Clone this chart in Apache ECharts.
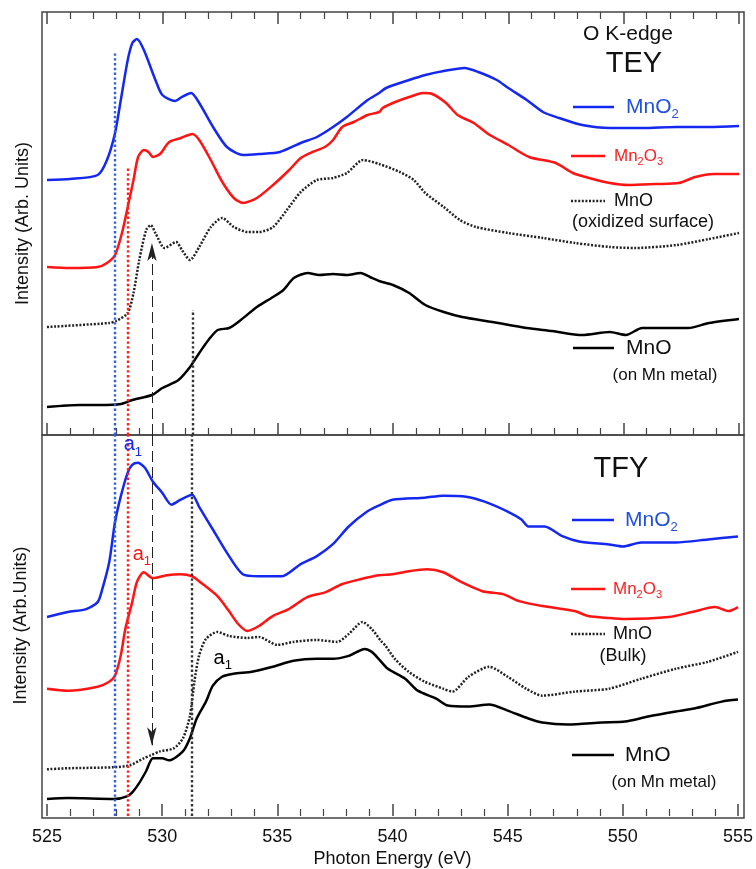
<!DOCTYPE html>
<html>
<head>
<meta charset="utf-8">
<title>O K-edge XAS</title>
<script src="https://cdn.jsdelivr.net/npm/echarts@6/dist/echarts.min.js"></script>
<style>
  html, body { margin: 0; padding: 0; background: #fff; }
  #chart { width: 756px; height: 869px; }
</style>
</head>
<body>
<div id="chart"></div>
<script>
// photon energy axis
const energyMin = 525;
const energyMax = 555;
const energyStep = 5;

// TEY panel, [eV, intensity] (arb. units, offset as in the figure)
const teyMnO2 = [[525,255],[526,256],[527.2,260],[527.6,275],[527.95,302],[528.2,335],[528.5,375],[528.7,392],[528.9,396],[529.2,385],[529.7,355],[530.0,340],[530.55,334],[530.85,338],[531.25,342],[531.6,332],[532.2,308],[532.8,288],[533.5,280],[534.2,281],[535.1,283],[536.0,292],[536.7,298],[537.4,308],[538.0,318],[538.9,335],[539.4,342],[539.7,347],[540.7,355],[541.4,360],[542.2,364],[543.1,367],[543.7,363],[544.5,355],[545.0,347],[545.8,335],[546.5,323],[547.2,317],[548.2,310],[549.4,307],[550.8,307],[552.3,308],[553.7,308],[555,309]];
const teyMn2O3 = [[525,168],[526,167],[527.2,168],[527.6,172],[527.95,180],[528.25,202],[528.5,228],[528.75,255],[528.95,278],[529.2,285],[529.4,283],[529.6,278],[529.9,281],[530.3,293],[530.8,297],[531.3,301],[531.6,295],[532.1,275],[532.6,253],[533.1,237],[533.5,232],[534.1,237],[534.8,250],[535.5,265],[536.0,277],[536.5,283],[537.05,288],[537.4,295],[537.8,308],[538.3,313],[538.9,320],[539.4,323],[539.55,327],[540.1,333],[540.7,338],[541.3,342],[541.7,341],[542.3,332],[542.8,320],[543.5,312],[544.2,300],[545.0,290],[545.9,278],[547.05,272],[547.8,262],[548.5,257],[549.4,252],[550.2,250],[551.4,251],[552.4,252],[553.1,258],[553.9,261],[555,261]];
const teyMnOSurface = [[525,108],[527.7,112],[528.0,114],[528.5,122],[528.75,142],[529.0,175],[529.3,205],[529.5,210],[529.7,202],[530.1,187],[530.6,193],[530.85,185],[531.2,175],[531.6,188],[532.1,208],[532.6,217],[533.1,208],[533.7,203],[534.2,203],[534.8,208],[535.4,225],[536.0,243],[536.7,255],[537.4,257],[538.0,262],[538.7,275],[539.4,271],[540.3,263],[540.9,255],[541.4,242],[542.2,228],[542.9,215],[543.6,208],[545.0,202],[546.5,197],[547.9,192],[549.4,188],[550.5,187],[552.3,190],[553.7,196],[555,202]];
const teyMnOMetal = [[525,28],[526.4,30],[527.3,30],[528.2,31],[528.7,35],[529.55,40],[530.0,47],[530.7,55],[531.2,68],[531.6,82],[532.0,95],[532.4,105],[532.9,107],[533.4,115],[534.1,128],[534.8,138],[535.25,145],[535.7,157],[536.3,162],[536.8,160],[537.4,161],[538.0,160],[538.6,162],[539.0,158],[539.4,154],[540.0,150],[540.7,142],[541.4,130],[542.2,123],[543.0,118],[544.3,113],[545.8,107],[546.9,104],[548.2,100],[549.4,103],[550.1,100],[550.8,107],[551.8,107],[552.8,107],[553.7,112],[555,116]];

// TFY panel
const tfyMnO2 = [[525,200],[525.9,205],[526.7,208],[527.2,215],[527.4,228],[527.7,255],[527.95,295],[528.2,321],[528.5,345],[528.7,353],[528.95,355],[529.25,350],[529.6,336],[530.0,325],[530.4,313],[530.8,318],[531.3,323],[531.6,311],[532.2,288],[532.8,265],[533.5,243],[534.2,241],[535.2,241],[536.0,253],[536.7,261],[537.4,273],[538.1,291],[538.9,306],[539.4,312],[540.0,318],[541.4,320],[542.2,322],[543.2,321],[544.0,316],[545.0,306],[545.6,298],[545.9,291],[546.6,291],[547.4,281],[548.1,276],[549.4,273],[550.0,271],[550.8,275],[552.3,275],[553.7,278],[555,281]];
const tfyMn2O3 = [[525,128],[525.9,126],[527.2,130],[527.7,135],[527.95,141],[528.2,161],[528.4,188],[528.7,215],[528.9,235],[529.2,245],[529.6,239],[530.2,242],[530.8,243],[531.3,241],[531.6,236],[532.4,221],[532.9,206],[533.3,193],[533.7,186],[534.2,191],[534.8,201],[535.5,208],[536.3,220],[537.1,225],[537.8,233],[538.6,238],[539.4,242],[540.0,243],[540.7,246],[541.5,248],[542.2,245],[543.0,235],[543.9,226],[544.8,223],[545.5,216],[546.5,211],[547.9,206],[548.5,201],[549.4,199],[550.1,198],[552.0,200],[553.0,205],[554.0,210],[554.6,206],[555,210]];
const tfyMnOBulk = [[525,47],[525.9,48],[527.9,49],[528.6,51],[529.2,58],[529.5,61],[529.9,65],[530.5,68],[530.9,78],[531.2,100],[531.4,135],[531.6,161],[531.9,178],[532.4,185],[532.9,181],[533.7,179],[534.2,180],[535.0,172],[535.7,175],[536.7,177],[537.6,175],[538.1,183],[538.7,195],[539.1,188],[539.5,176],[539.7,171],[540.1,158],[540.7,145],[541.4,135],[542.2,128],[542.6,125],[543.3,140],[544.2,150],[545.0,140],[545.8,128],[546.5,121],[547.9,125],[549.4,128],[550.8,138],[552.3,148],[553.7,155],[555,165]];
const tfyMnOMetal = [[525,17],[525.9,18],[527.9,17],[528.5,20],[528.75,25],[529.0,33],[529.3,45],[529.6,58],[530.0,58],[530.3,56],[530.9,65],[531.2,78],[531.5,98],[531.9,115],[532.2,131],[532.6,140],[533.1,143],[533.9,145],[534.8,150],[535.7,156],[536.7,158],[537.4,158],[538.1,161],[538.8,168],[539.1,165],[539.4,158],[539.8,148],[540.55,138],[541.1,126],[541.9,118],[542.4,111],[543.3,110],[544.2,112],[545.0,106],[545.9,98],[546.5,94],[547.6,92],[549.1,94],[550.1,95],[551.1,100],[552.3,105],[553.1,108],[554.3,115],[555,117]];

// edge markers (eV) and how high they reach in the TEY panel
const edgeMnO2 = 527.95;
const edgeMn2O3 = 528.5;
const edgeMnO = 531.3;
const arrowEnergy = 529.55;
const teyMarkerTops = [382, 268, 125];
const teyArrowTip = 192;
const tfyArrowTip = 71;

// a1 labels in the TFY panel: [eV, intensity]
const a1Positions = [[528.73, 373], [529.12, 263], [532.63, 158]];

const TEY_MAX = 423;
const TFY_MAX = 383;

const font = '"Liberation Sans", Arial, sans-serif';
const BLUE = '#1428f0';
const RED = '#ff1414';
const BLACK = '#000';
const dots = [2, 1.6];

const chart = echarts.init(document.getElementById('chart'));

function xAxis(gridIndex, position, withLabels) {
    return {
        type: 'value',
        gridIndex: gridIndex,
        position: position,
        min: energyMin,
        max: energyMax,
        interval: energyStep,
        axisLine: { show: false },
        axisTick: { show: true, inside: true, length: 12, lineStyle: { color: '#444', width: 1.5 } },
        minorTick: { show: true, splitNumber: 5, length: 7, lineStyle: { color: '#444', width: 1.2 } },
        splitLine: { show: false },
        axisLabel: { show: withLabels, color: '#111', fontSize: 18, fontFamily: font, margin: 12 },
        name: withLabels ? 'Photon Energy (eV)' : '',
        nameLocation: 'middle',
        nameGap: 34,
        nameTextStyle: { color: '#111', fontSize: 18, fontFamily: font }
    };
}

function yAxis(gridIndex, max, name, gap) {
    return {
        type: 'value',
        gridIndex: gridIndex,
        min: 0,
        max: max,
        axisLine: { show: false },
        axisTick: { show: false },
        axisLabel: { show: false },
        splitLine: { show: false },
        name: name,
        nameLocation: 'middle',
        nameGap: gap,
        nameTextStyle: { color: '#111', fontSize: 18, fontFamily: font }
    };
}

function curve(data, xi, yi, color, dotted) {
    return {
        type: 'line',
        data: data,
        xAxisIndex: xi,
        yAxisIndex: yi,
        showSymbol: false,
        symbol: 'none',
        smooth: 0.25,
        lineStyle: { color: color, width: 2.5, type: dotted ? dots : 'solid' },
        silent: true
    };
}

function vline(x, y0, y1, color) {
    return [
        { coord: [x, y0], lineStyle: { color: color, width: 2.4, type: [2.4, 2.4] } },
        { coord: [x, y1] }
    ];
}

function arrowLine(x, y0, y1) {
    return [
        { coord: [x, y0], symbol: 'none', lineStyle: { color: '#222', width: 1, type: [11, 5] } },
        { coord: [x, y1], symbol: 'arrow', symbolSize: [7, 18] }
    ];
}

function sub(main, s, size, color) {
    return {
        text: '{m|' + main + '}{s|' + s + '}',
        rich: {
            m: { fontSize: size, fontFamily: font, fill: color, color: color },
            s: { fontSize: Math.round(size * 0.62), fontFamily: font, fill: color, color: color, padding: [Math.round(size * 0.66), 0, 0, 0] }
        }
    };
}

function txt(x, y, content, size, color, align) {
    const style = typeof content === 'string'
        ? { text: content, fontSize: size, fontFamily: font }
        : content;
    return {
        type: 'text',
        silent: true,
        style: Object.assign({
            x: x, y: y,
            fill: color,
            align: align, textAlign: align,
            verticalAlign: 'middle', textVerticalAlign: 'middle'
        }, style)
    };
}

function seg(x1, x2, y, color, dotted) {
    return {
        type: 'line',
        silent: true,
        shape: { x1: x1, y1: y, x2: x2, y2: y },
        style: { stroke: color, lineWidth: 2.5, lineDash: dotted ? dots : null }
    };
}

const mn2o3Text = (size, color) => ({
    text: '{m|Mn}{s|2}{m|O}{s|3}',
    rich: sub('', '', size, color).rich
});

const markLineBase = {
    silent: true,
    symbol: 'none',
    label: { show: false },
    emphasis: { disabled: true },
    animation: false,
    lineStyle: { width: 2.4 }
};

const teyMarkers = curve(teyMnOMetal, 0, 0, BLACK, false);
teyMarkers.markLine = Object.assign({}, markLineBase, {
    data: [
        vline(edgeMnO2, 0, teyMarkerTops[0], '#3060e0'),
        vline(edgeMn2O3, 0, teyMarkerTops[1], '#ff2020'),
        vline(edgeMnO, 0, teyMarkerTops[2], '#333'),
        arrowLine(arrowEnergy, 0, teyArrowTip)
    ]
});

const a1Colors = [BLUE, RED, BLACK];
const tfyMarkers = curve(tfyMnOMetal, 2, 1, BLACK, false);
tfyMarkers.markLine = Object.assign({}, markLineBase, {
    data: [
        vline(edgeMnO2, 0, TFY_MAX, '#3060e0'),
        vline(edgeMn2O3, 0, TFY_MAX, '#ff2020'),
        vline(edgeMnO, 0, TFY_MAX, '#333'),
        arrowLine(arrowEnergy, TFY_MAX, tfyArrowTip)
    ]
});
tfyMarkers.markPoint = {
    silent: true,
    symbol: 'circle',
    symbolSize: 1,
    itemStyle: { color: 'rgba(0,0,0,0)' },
    animation: false,
    data: a1Positions.map((p, i) => ({
        coord: p,
        label: {
            show: true,
            position: 'inside',
            formatter: '{m|a}{s|1}',
            rich: {
                m: { fontSize: 20, fontFamily: font, color: a1Colors[i] },
                s: { fontSize: 13, fontFamily: font, color: a1Colors[i], padding: [14, 0, 0, 0] }
            }
        }
    }))
};

const option = {
    animation: false,
    backgroundColor: '#fff',
    grid: [
        { left: 47, right: 17, top: 12, height: TEY_MAX },
        { left: 47, right: 17, top: 435, height: TFY_MAX }
    ],
    xAxis: [
        xAxis(0, 'bottom', false),
        xAxis(0, 'top', false),
        xAxis(1, 'bottom', true)
    ],
    yAxis: [
        yAxis(0, TEY_MAX, 'Intensity (Arb. Units)', 15),
        yAxis(1, TFY_MAX, 'Intensity (Arb.Units)', 17)
    ],
    series: [
        curve(teyMnO2, 0, 0, BLUE, false),
        curve(teyMn2O3, 0, 0, RED, false),
        curve(teyMnOSurface, 0, 0, '#222', true),
        teyMarkers,
        curve(tfyMnO2, 2, 1, BLUE, false),
        curve(tfyMn2O3, 2, 1, RED, false),
        curve(tfyMnOBulk, 2, 1, '#222', true),
        tfyMarkers
    ],
    graphic: [
        // panel frames
        { type: 'rect', silent: true, shape: { x: 42, y: 12, width: 702, height: 423 }, style: { fill: null, stroke: '#444', lineWidth: 1.5 } },
        { type: 'rect', silent: true, shape: { x: 42, y: 435, width: 702, height: 383 }, style: { fill: null, stroke: '#444', lineWidth: 1.5 } },

        // TEY labels
        txt(628, 34, 'O K-edge', 21, '#111', 'center'),
        txt(634, 64, 'TEY', 29, '#111', 'center'),
        seg(573, 614, 107, BLUE, false),
        txt(626, 107, sub('MnO', '2', 21, '#2050e0'), 21, '#2050e0', 'left'),
        seg(571, 605, 156, RED, false),
        txt(614, 156, mn2o3Text(17, '#ff2020'), 17, '#ff2020', 'left'),
        seg(571, 605, 201, '#222', true),
        txt(614, 201, 'MnO', 18, '#111', 'left'),
        txt(643, 222, '(oxidized surface)', 18, '#111', 'center'),
        seg(573, 614, 348, BLACK, false),
        txt(626, 348, 'MnO', 21, '#111', 'left'),
        txt(665, 375, '(on Mn metal)', 17, '#111', 'center'),

        // TFY labels
        txt(621, 469, 'TFY', 29, '#111', 'center'),
        seg(572, 614, 520, BLUE, false),
        txt(625, 520, sub('MnO', '2', 21, '#2050e0'), 21, '#2050e0', 'left'),
        seg(571, 605, 589, RED, false),
        txt(613, 589, mn2o3Text(17, '#ff2020'), 17, '#ff2020', 'left'),
        seg(571, 605, 634, '#222', true),
        txt(613, 634, 'MnO', 18, '#111', 'left'),
        txt(623, 656, '(Bulk)', 18, '#111', 'center'),
        seg(572, 614, 755, BLACK, false),
        txt(625, 755, 'MnO', 21, '#111', 'left'),
        txt(664, 782, '(on Mn metal)', 17, '#111', 'center')
    ]
};

chart.setOption(option);
</script>
</body>
</html>
